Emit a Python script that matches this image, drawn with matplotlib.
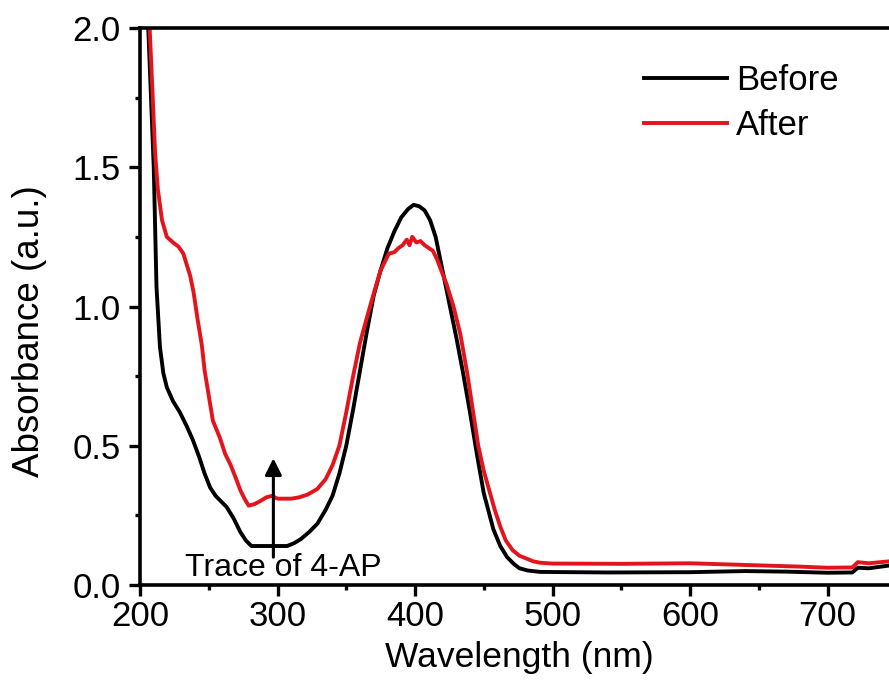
import matplotlib
matplotlib.use('Agg')
import matplotlib.pyplot as plt

plt.rcParams['font.family'] = ['Liberation Sans', 'DejaVu Sans']

# Before (black)
wl_before = [204, 206, 208, 210, 212, 214.5, 217, 219.5, 224, 229, 234, 238.5, 243, 247, 251,
             255, 259, 263, 268, 273, 277, 281, 290, 300, 307, 312, 317, 323, 329, 335, 340,
             345, 350, 355, 360, 365, 370, 375, 380, 385, 390, 395, 399, 403, 407, 411,
             415, 420, 425, 430, 435, 440, 445, 450, 457, 462, 467, 472, 476, 482, 491,
             540, 600, 640, 670, 700, 718, 722, 730, 745, 800]
abs_before = [2.10, 2.00, 1.75, 1.50, 1.07, 0.855, 0.76, 0.71, 0.66, 0.62, 0.57, 0.52, 0.46, 0.40, 0.35,
              0.32, 0.30, 0.28, 0.24, 0.19, 0.16, 0.14, 0.14, 0.14, 0.14, 0.15, 0.165, 0.19, 0.22, 0.27, 0.32,
              0.40, 0.50, 0.63, 0.77, 0.91, 1.04, 1.13, 1.21, 1.27, 1.32, 1.35, 1.365, 1.36, 1.345, 1.31,
              1.25, 1.13, 1.01, 0.89, 0.76, 0.62, 0.47, 0.33, 0.20, 0.14, 0.10, 0.075, 0.06, 0.052, 0.047,
              0.045, 0.046, 0.05, 0.048, 0.044, 0.045, 0.062, 0.06, 0.07, 0.075]

# After (red)
wl_after = [206, 207, 209, 211, 213, 216, 219.5, 224, 228, 231.5, 234, 236.5, 239, 242, 245,
            247, 250, 253, 258, 262, 266, 270, 273, 276, 279, 283, 287, 292, 296, 300, 305,
            310, 316, 322, 329, 335, 340, 345, 350, 355, 360, 365, 369, 372, 375, 378,
            381, 385, 388, 391, 394, 396, 398, 401, 404, 407, 410, 413, 416, 419, 423,
            428, 433, 438, 442, 446, 450, 454, 458, 462, 466, 471, 476, 481, 486, 491,
            500, 550, 600, 640, 680, 700, 718, 722, 730, 745, 800]
abs_after = [2.05, 2.00, 1.78, 1.55, 1.42, 1.31, 1.25, 1.23, 1.215, 1.19, 1.15, 1.11, 1.05, 0.95, 0.86,
             0.77, 0.68, 0.59, 0.53, 0.47, 0.43, 0.38, 0.34, 0.31, 0.285, 0.29, 0.30, 0.315, 0.32, 0.31, 0.31,
             0.31, 0.315, 0.325, 0.345, 0.38, 0.43, 0.50, 0.62, 0.75, 0.87, 0.96, 1.03, 1.08, 1.13, 1.16,
             1.19, 1.195, 1.21, 1.22, 1.24, 1.22, 1.25, 1.23, 1.235, 1.22, 1.21, 1.20, 1.17, 1.13, 1.08,
             1.00, 0.90, 0.76, 0.63, 0.50, 0.41, 0.34, 0.27, 0.21, 0.16, 0.125, 0.105, 0.095, 0.085, 0.08,
             0.077, 0.076, 0.078, 0.072, 0.066, 0.062, 0.063, 0.082, 0.078, 0.085, 0.09]

x_ticks = [200, 300, 400, 500, 600, 700]
y_ticks = [0.0, 0.5, 1.0, 1.5, 2.0]

fig = plt.figure(figsize=(8.89, 6.88), dpi=100)
ax = fig.add_axes([140/889, 103/688, 749/889, 557/688])

ax.plot(wl_before, abs_before, color='black', lw=2.8, label='Before')
ax.plot(wl_after, abs_after, color='#e3141b', lw=2.8, label='After')

ax.set_xlim(200, 200 + 749/1.375)
ax.set_ylim(0, 2.0)
ax.set_xticks(x_ticks)
ax.set_yticks(y_ticks)
ax.set_yticklabels(['%.1f' % v for v in y_ticks])
ax.set_xticks([250, 350, 450, 550, 650], minor=True)
ax.set_yticks([0.25, 0.75, 1.25, 1.75], minor=True)
ax.tick_params(which='major', direction='out', length=8, width=2.4, labelsize=25)
ax.tick_params(axis='x', which='major', pad=2.5)
ax.tick_params(axis='y', which='major', pad=6)
ax.tick_params(which='minor', direction='out', length=3.5, width=2.4)
for s in ['left', 'bottom', 'top']:
    ax.spines[s].set_linewidth(2.6)
ax.spines['right'].set_visible(False)

ax.set_xlabel('Wavelength (nm)', fontsize=25.5)
ax.xaxis.set_label_coords(0.507, -0.10)
ax.set_ylabel('Absorbance (a.u.)', fontsize=26.5)
ax.yaxis.set_label_coords(-0.124, 0.455)

ax.annotate('', xy=(297, 0.465), xytext=(297, 0.09),
            arrowprops=dict(arrowstyle='-|>', color='black', lw=2.2, mutation_scale=25))
ax.text(304, 0.06, 'Trace of 4-AP', fontsize=23, ha='center', va='center')

leg = ax.legend(loc='upper left', bbox_to_anchor=(644/889, 1 - 64/688), bbox_transform=fig.transFigure,
                frameon=False, fontsize=25, handlelength=2.4, handletextpad=0.25,
                labelspacing=0.35, borderaxespad=0, borderpad=0)

fig.savefig('out.png', dpi=100)
